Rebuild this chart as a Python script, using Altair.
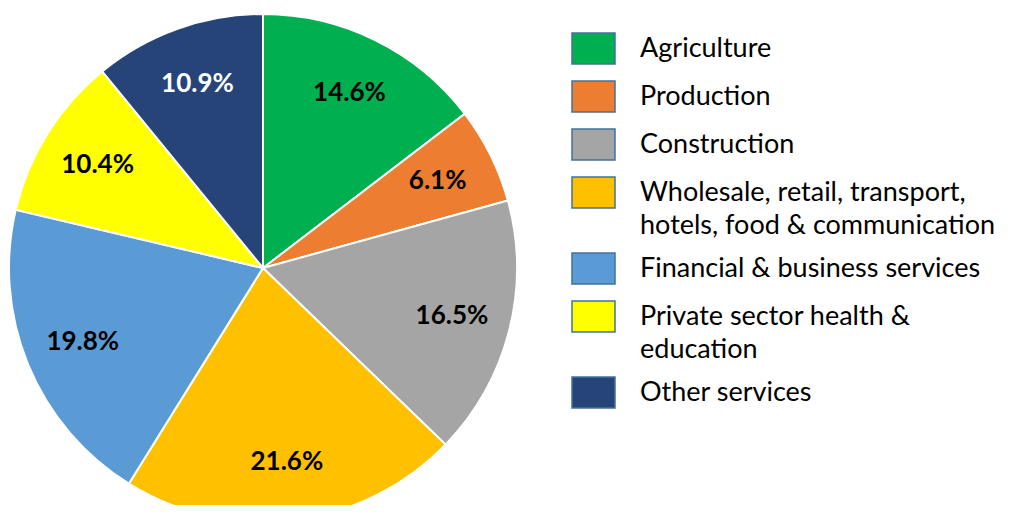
import altair as alt
import pandas as pd

categories = [
    "Agriculture",
    "Production",
    "Construction",
    "Wholesale, retail, transport, hotels, food & communication",
    "Financial & business services",
    "Private sector health & education",
    "Other services",
]
shares = [14.6, 6.1, 16.5, 21.6, 19.8, 10.4, 10.9]
colors = ["#00B050", "#ED7D31", "#A5A5A5", "#FFC000", "#5B9BD5", "#FFFF00", "#264478"]

df = pd.DataFrame({
    "category": categories,
    "share": shares,
    "idx": list(range(len(categories))),
})
df["label"] = df["share"].map(lambda v: f"{v:.1f}%")

label_expr = (
    "datum.label == 'Wholesale, retail, transport, hotels, food & communication' ? "
    "['Wholesale, retail, transport,', 'hotels, food & communication'] : "
    "datum.label == 'Private sector health & education' ? "
    "['Private sector health &', 'education'] : datum.label"
)

FONT = "Lato"
CX, CY, R = 255, 260, 254

base = alt.Chart(df).encode(
    theta=alt.Theta("share:Q", stack=True),
    order=alt.Order("idx:Q"),
)

pie = base.mark_arc(outerRadius=R, stroke="white", strokeWidth=2).encode(
    x=alt.value(CX),
    y=alt.value(CY),
    color=alt.Color(
        "category:N",
        sort=categories,
        scale=alt.Scale(domain=categories, range=colors),
        legend=alt.Legend(
            title=None,
            orient="none",
            legendX=563,
            legendY=18,
            padding=0,
            symbolType="M-1,-0.72L1,-0.72L1,0.72L-1,0.72Z",
            symbolSize=1849,
            symbolStrokeColor="#41719C",
            symbolStrokeWidth=1.5,
            labelFont=FONT,
            labelFontSize=27,
            labelColor="#000000",
            labelOffset=24,
            labelLimit=500,
            rowPadding=7,
            labelExpr=label_expr,
        ),
    ),
)

text = base.mark_text(radius=195, font=FONT, fontSize=26, fontWeight="bold").encode(
    x=alt.value(CX),
    y=alt.value(CY),
    text="label:N",
    color=alt.condition(alt.datum.category == "Other services", alt.value("white"), alt.value("black")),
)

chart = (
    alt.layer(pie, text)
    .properties(width=994, height=497, padding=0, autosize=alt.AutoSizeParams(type="none"))
    .configure(style={"guide-label": {"lineHeight": 33}}, view={"stroke": None})
)

chart.save("out.html", embed_options={"renderer": "svg", "actions": False})
